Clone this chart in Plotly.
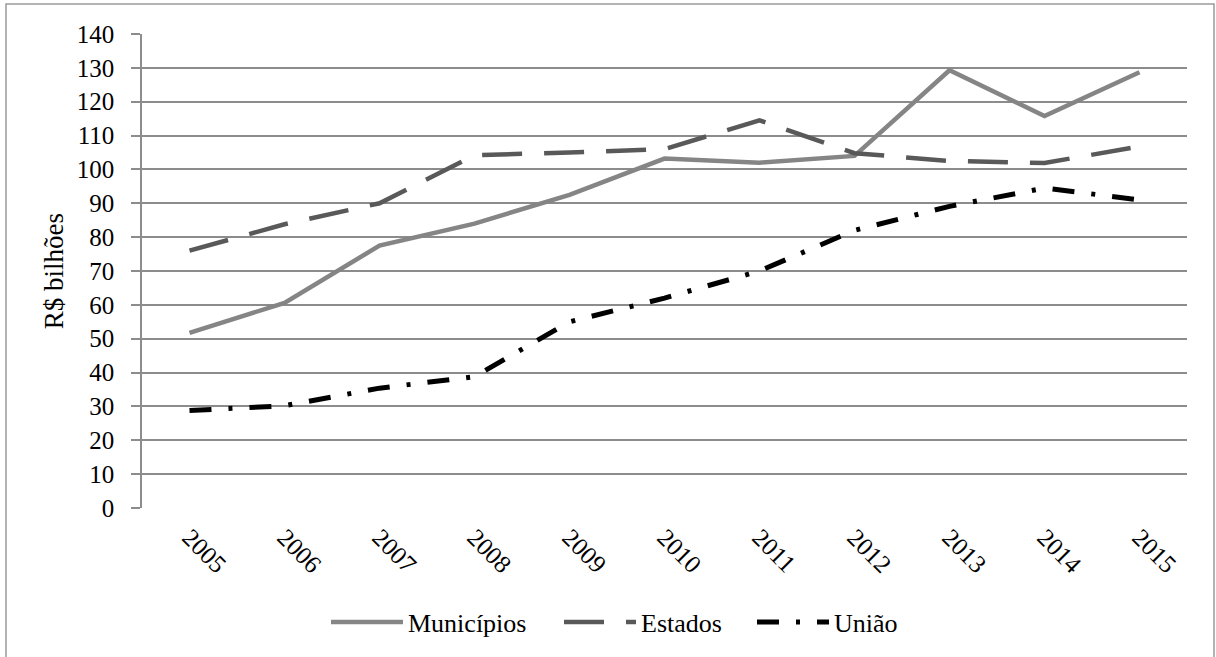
import plotly.graph_objects as go

years = ["2005", "2006", "2007", "2008", "2009", "2010", "2011", "2012", "2013", "2014", "2015"]
municipios = [51.7, 60.6, 77.5, 84.0, 92.5, 103.2, 102.0, 104.0, 129.3, 115.8, 128.7]
estados = [76.0, 83.8, 90.0, 104.2, 105.0, 106.0, 114.5, 104.8, 102.5, 101.9, 106.8]
uniao = [28.8, 30.2, 35.4, 38.8, 55.0, 62.0, 70.0, 82.0, 89.1, 94.5, 91.0]
yticks = list(range(0, 141, 10))

FONT = "Liberation Serif"

fig = go.Figure()
fig.add_trace(go.Scatter(x=years, y=municipios, name="Municípios", mode="lines", legend="legend",
                         line=dict(color="#858585", width=4.5)))
fig.add_trace(go.Scatter(x=years, y=estados, name="Estados", mode="lines", legend="legend2",
                         line=dict(color="#595959", width=4.5, dash="40px,22px")))
fig.add_trace(go.Scatter(x=years, y=uniao, name="União", mode="lines", legend="legend3",
                         line=dict(color="#000000", width=5, dash="22px,17px,4px,17px")))

L, R, T, B = 142, 29, 34, 149
W, H = 1216, 657
pw, ph = W - L - R, H - T - B

def px_x(v):
    return (v - L) / pw

def px_y(v):
    return (H - B - v) / ph

fig.add_shape(type="rect", xref="paper", yref="paper",
              x0=px_x(6), x1=px_x(1214), y0=px_y(662), y1=px_y(4),
              line=dict(color="#9a9a9a", width=1.5), fillcolor="rgba(0,0,0,0)", layer="below")

def leg(xpx):
    return dict(orientation="h", x=px_x(xpx), xanchor="left", y=px_y(622), yanchor="middle",
                font=dict(family=FONT, size=26, color="black"), itemwidth=72,
                bgcolor="rgba(0,0,0,0)", tracegroupgap=0)

fig.update_layout(
    width=W, height=H,
    margin=dict(l=L, r=R, t=T, b=B, pad=0),
    paper_bgcolor="white", plot_bgcolor="white",
    font=dict(family=FONT, size=25, color="black"),
    showlegend=True,
    legend=leg(326), legend2=leg(559), legend3=leg(752),
    xaxis=dict(type="category", tickangle=45, showgrid=False, showline=False,
               ticks="", tickfont=dict(family=FONT, size=25, color="black"),
               ticklabelstandoff=9, range=[-0.5, 10.5], zeroline=False),
    yaxis=dict(range=[0, 140], tickvals=yticks, showgrid=True, gridcolor="#8c8c8c",
               gridwidth=1.5, showline=True, linecolor="#8c8c8c", linewidth=1.5,
               ticks="outside", ticklen=9, tickcolor="#8c8c8c", tickwidth=1.5,
               ticklabelstandoff=12,
               tickfont=dict(family=FONT, size=25, color="black"), zeroline=False,
               title=dict(text="R$ bilhões", font=dict(family=FONT, size=27, color="black"), standoff=5)),
)

fig.write_html("out.html", config={"displayModeBar": False},
               post_script="document.body.style.margin='0';document.body.style.overflow='hidden';")
